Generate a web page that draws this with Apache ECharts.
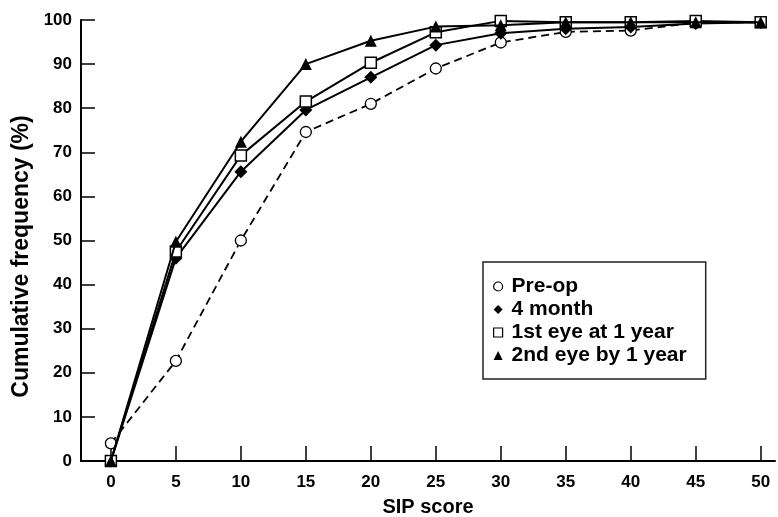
<!DOCTYPE html>
<html>
<head>
<meta charset="utf-8">
<script src="https://cdn.jsdelivr.net/npm/echarts@6/dist/echarts.min.js"></script>
<style>
  html, body { margin: 0; padding: 0; background: #fff; }
  #chart { width: 778px; height: 517px; }
</style>
</head>
<body>
<div id="chart"></div>
<script>
// SIP score categories (x values)
const sipScores = [0, 5, 10, 15, 20, 25, 30, 35, 40, 45, 50]
const xTicks = [0, 5, 10, 15, 20, 25, 30, 35, 40, 45, 50]

// cumulative frequency (%) per group
const preOp = [4, 22.7, 50, 74.6, 81, 89, 94.9, 97.3, 97.6, 99.4, 99.5]
const fourMonth = [0, 46, 65.6, 79.6, 87, 94.3, 97, 98, 98.4, 99.2, 99.5]
const firstEye = [0, 47.5, 69.3, 81.5, 90.3, 97.2, 99.8, 99.5, 99.5, 99.8, 99.5]
const secondEye = [0, 49.7, 72.4, 90, 95.3, 98.5, 98.8, 99.5, 99.5, 99.5, 99.5]

const pairs = arr => sipScores.map((x, i) => [x, arr[i]])

const font = 'Liberation Sans, Arial, sans-serif'

const chart = echarts.init(document.getElementById('chart'))
chart.setOption({
  animation: false,
  backgroundColor: '#fff',
  grid: { left: 81, top: 20, right: 3, bottom: 56, containLabel: false, outerBoundsMode: 'none' },
  legend: {
    orient: 'vertical',
    left: 483,
    top: 262,
    padding: [14, 19, 13, 10],
    itemGap: 2,
    itemWidth: 9,
    itemHeight: 9,
    borderColor: '#222',
    borderWidth: 1.5,
    textStyle: { fontFamily: font, fontSize: 21, fontWeight: 'bold', color: '#000', padding: [0, 0, 0, 4] },
    data: [
      { name: 'Pre-op', icon: 'circle', itemStyle: { color: '#fff', borderColor: '#000', borderWidth: 1.2 } },
      { name: '4 month', icon: 'diamond', itemStyle: { color: '#000', borderWidth: 0 } },
      { name: '1st eye at 1 year', icon: 'rect', itemStyle: { color: '#fff', borderColor: '#000', borderWidth: 1.2 } },
      { name: '2nd eye by 1 year', icon: 'triangle', itemStyle: { color: '#000', borderWidth: 0 } }
    ]
  },
  xAxis: {
    type: 'value',
    min: -2.3,
    max: 51.1,
    name: 'SIP score',
    nameLocation: 'middle',
    nameGap: 36,
    nameTextStyle: { fontFamily: font, fontSize: 20, fontWeight: 'bold', color: '#000' },
    axisLine: { lineStyle: { color: '#000', width: 2 } },
    axisTick: { inside: true, length: 15, customValues: xTicks, lineStyle: { color: '#000', width: 1.5 } },
    axisLabel: { customValues: xTicks, fontFamily: font, fontSize: 17, fontWeight: 'bold', color: '#000', margin: 13 },
    splitLine: { show: false }
  },
  yAxis: {
    type: 'value',
    min: 0,
    max: 100,
    interval: 10,
    name: 'Cumulative frequency (%)',
    nameLocation: 'middle',
    nameGap: 47,
    nameTextStyle: { fontFamily: font, fontSize: 23, fontWeight: 'bold', color: '#000', padding: [0, 32, 0, 0] },
    axisLine: { show: true, onZero: false, lineStyle: { color: '#000', width: 2 } },
    axisTick: { show: true, inside: true, length: 14, lineStyle: { color: '#000', width: 1.5 } },
    axisLabel: { fontFamily: font, fontSize: 17, fontWeight: 'bold', color: '#000', margin: 9 },
    splitLine: { show: false }
  },
  series: [
    {
      name: 'Pre-op', type: 'line', data: pairs(preOp), z: 1,
      symbol: 'circle', symbolSize: 11,
      lineStyle: { color: '#000', width: 1.8, type: [8, 5] },
      itemStyle: { color: '#fff', borderColor: '#000', borderWidth: 1.3 }
    },
    {
      name: '4 month', type: 'line', data: pairs(fourMonth), z: 2,
      symbol: 'diamond', symbolSize: 13,
      lineStyle: { color: '#000', width: 2 },
      itemStyle: { color: '#000', borderWidth: 0 }
    },
    {
      name: '1st eye at 1 year', type: 'line', data: pairs(firstEye), z: 3,
      symbol: 'rect', symbolSize: 11,
      lineStyle: { color: '#000', width: 2 },
      itemStyle: { color: '#fff', borderColor: '#000', borderWidth: 1.5 }
    },
    {
      name: '2nd eye by 1 year', type: 'line', data: pairs(secondEye), z: 4,
      symbol: 'triangle', symbolSize: 12,
      lineStyle: { color: '#000', width: 2 },
      itemStyle: { color: '#000', borderWidth: 0 }
    }
  ]
})
</script>
</body>
</html>
